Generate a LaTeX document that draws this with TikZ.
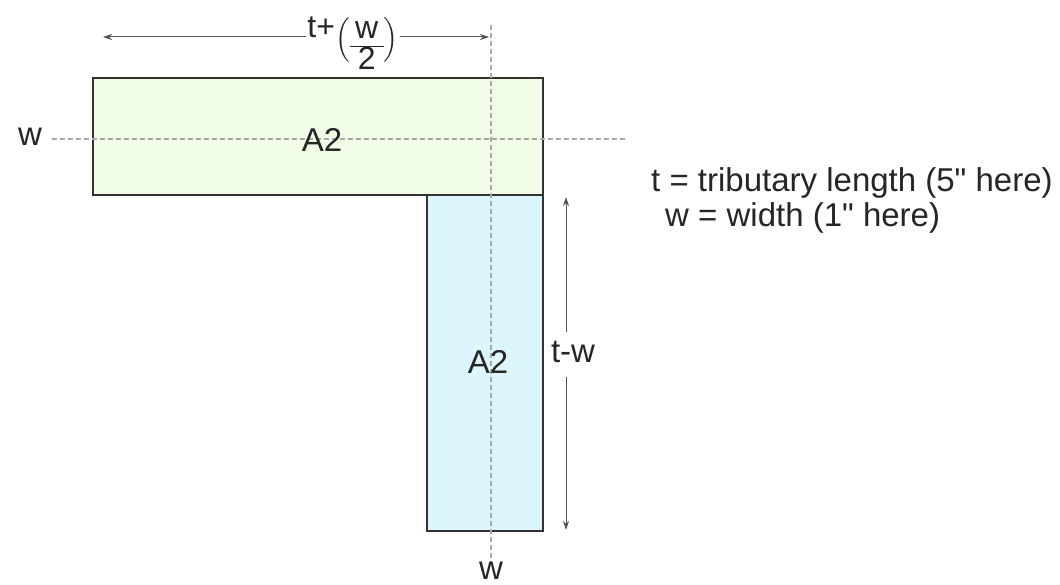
\documentclass[tikz,border=0pt]{standalone}
\usepackage{amsmath}
\usepackage{fontspec}
\setmainfont{Liberation Sans}
\usetikzlibrary{arrows.meta}
\definecolor{edge}{HTML}{333333}
\definecolor{greenfill}{HTML}{F1FCE7}
\definecolor{bluefill}{HTML}{DDF6FD}
\definecolor{dashgray}{HTML}{A8A8A8}
\definecolor{arrgray}{HTML}{555555}
\newcommand{\strquote}{\XeTeXglyph\XeTeXcharglyph"22\relax}
\tikzset{
  areabox/.style={draw=edge, line width=2pt, inner sep=0pt, anchor=center},
  guide/.style={draw=dashgray, line width=1.2pt, dash pattern=on 5pt off 3pt},
  dimline/.style={draw=arrgray, line width=1pt, -{Stealth[length=9pt,width=6pt]}},
  lbl/.style={font=\fontsize{33}{38}\selectfont, text=black!85, inner sep=1pt},
}
\begin{document}
\begin{tikzpicture}[x=1pt,y=-1pt]
\useasboundingbox[fill=white] (0,0) rectangle (1060,585);
% rectangles
\node[areabox, fill=greenfill, minimum width=450pt, minimum height=117pt] (top) at (318,136.5) {};
\node[areabox, fill=bluefill, minimum width=116pt, minimum height=336pt] (bot) at (485,363) {};
% guide lines
\coordinate (hgL) at (52,139);
\coordinate (hgR) at (627,139);
\coordinate (vgT) at (491,25);
\coordinate (vgB) at (491,562);
\draw[guide] (hgL) -- (hgR);
\draw[guide] (vgT) -- (vgB);
% labels
\node[lbl] (wl) at (30,137) {w};
\node[lbl, anchor=base] (wb) at (491,579) {w};
\node[lbl] (a2top) at (322,140) {A2};
\node[lbl] (a2bot) at (488,362) {A2};
% top dimension
\node[lbl, font=\fontsize{32}{32}\selectfont, inner sep=1pt, anchor=base] (tdim) at (353,50)
  {\raisebox{12.5pt}{t+}\raisebox{4pt}{$\Big($}\raisebox{-5pt}{$\vcenter{\hbox{\renewcommand\arraystretch{0.8}%
   \arrayrulewidth=1pt\begin{tabular}{@{\,}c@{\,}}w\\\hline 2\end{tabular}}}$}\raisebox{4pt}{$\Big)$}};
\coordinate (tdL) at (103,37);
\coordinate (tdR) at (489,37);
\draw[dimline] (tdim.west |- tdL) -- (tdL);
\draw[dimline] (tdim.east |- tdR) -- (tdR);
% right dimension
\node[lbl] (rdim) at (573,352) {t-w};
\coordinate (rdT) at (566,197);
\coordinate (rdB) at (566,530);
\draw[dimline] (566,332) -- (rdT);
\draw[dimline] (566,377) -- (rdB);
% legend
\node[lbl, anchor=west] (leg1) at (650,183) {t = tributary length (5\strquote{} here)};
\node[lbl, anchor=west] (leg2) at (664,218) {w = width (1\strquote{} here)};
\end{tikzpicture}
\end{document}
